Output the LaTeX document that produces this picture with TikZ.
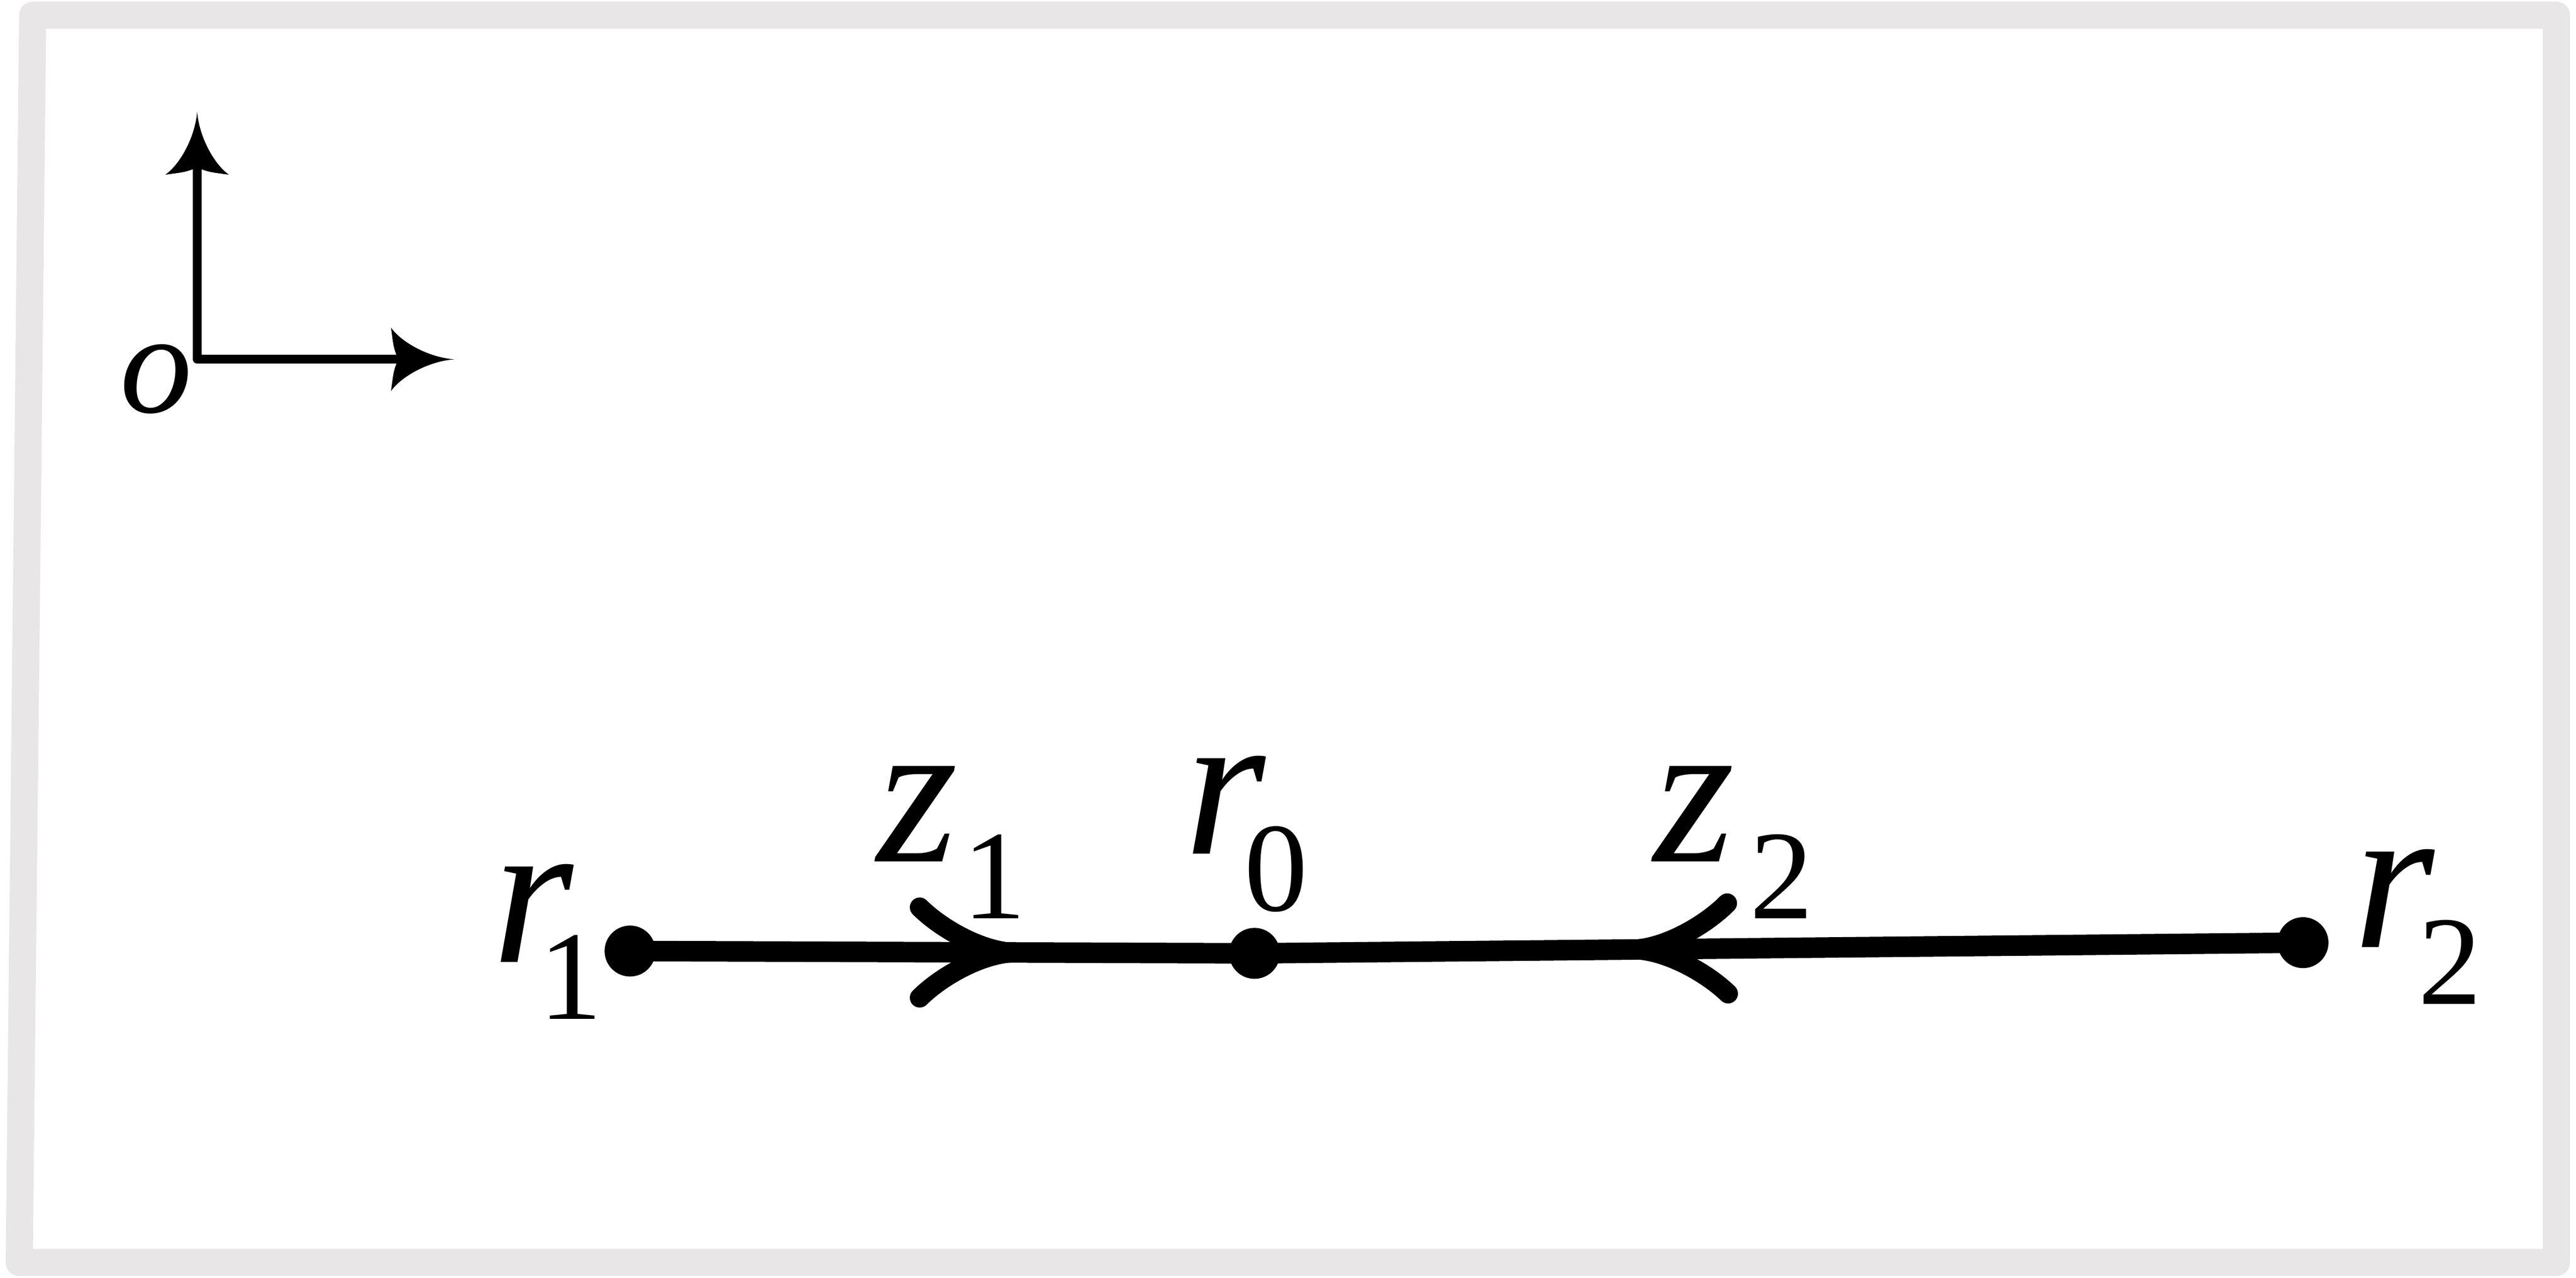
\documentclass[tikz,border=0pt]{standalone}
\usepackage{fontspec}
\setmainfont{Liberation Serif}
\usepackage{tikz}
\usetikzlibrary{arrows}
\definecolor{silverframe}{RGB}{232, 230, 231}
\newcommand{\bigsym}[3]{{\fontsize{36}{36}\selectfont\itshape #1}\kern#3\raisebox{-0.345cm}{\fontsize{22}{22}\selectfont #2}}

\begin{document}
\begin{tikzpicture}[
        dot/.style  = {circle, fill=black, inner sep=0pt, minimum size=0.31cm},
        sym/.style  = {anchor=base west, inner sep=0pt},
        wire/.style = {line width=0.125cm},
        axis/.style = {line width=0.053cm, line join=round, shorten <=0.3cm, shorten >=0.3cm},
        cusp/.pic   = {\fill (0.000, 0.000) .. controls (-0.150, 0.010) and (-0.320, 0.100) .. (-0.386, 0.193)
                             .. controls (-0.370, 0.070) .. (-0.343, 0.000)
                             .. controls (-0.370,-0.070) .. (-0.386,-0.193)
                             .. controls (-0.320,-0.100) and (-0.150,-0.010) .. cycle;},
        barb/.pic   = {\draw[line width=0.12cm, line cap=round, line join=round]
                             (-0.566, 0.275) .. controls (-0.440, 0.150) and (-0.200, 0.010) .. (0.000, 0.000)
                             .. controls (-0.200,-0.010) and (-0.440,-0.150) .. (-0.566,-0.275);}]
            \useasboundingbox                                              ( 0.000, 0.000) rectangle (15.680, 7.777);
            \draw[silverframe, line width=0.165cm, line join=round]       ( 0.199, 7.684) -- (15.561, 7.684) -- (15.561, 0.094) -- ( 0.117, 0.094) -- cycle;
            % axes
            \coordinate (o)    at ( 1.200, 5.590);
            \coordinate (ytip) at ( 1.200, 7.100);
            \coordinate (xtip) at ( 2.766, 5.590);
            \draw[axis] (ytip) -- (o) -- (xtip);
            \pic[rotate=90] at (ytip) {cusp};
            \pic            at (xtip) {cusp};
            \node[sym] (olab) at ( 0.726, 5.267) {\fontsize{25}{25}\selectfont\itshape o};
            % points on the line
            \node[dot] (r1) at ( 3.835, 1.989) {};
            \node[dot] (r0) at ( 7.636, 1.975) {};
            \node[dot] (r2) at (14.018, 2.040) {};
            \draw[wire] (r1.center) -- (r0.center) -- (r2.center);
            \coordinate (z1tip) at ( 6.164, 1.980);
            \coordinate (z2tip) at ( 9.950, 1.999);
            \pic                at (z1tip) {barb};
            \pic[rotate=180.6]  at (z2tip) {barb};
            % labels
            \node[sym] (r1lab) at ( 2.990, 1.920) {\bigsym{r}{1}{-0.21cm}};
            \node[sym] (z1lab) at ( 5.330, 2.533) {\bigsym{z}{1}{ 0.03cm}};
            \node[sym] (r0lab) at ( 7.205, 2.580) {\bigsym{r}{0}{-0.13cm}};
            \node[sym] (z2lab) at (10.060, 2.533) {\bigsym{z}{2}{ 0.09cm}};
            \node[sym] (r2lab) at (14.320, 2.012) {\bigsym{r}{2}{-0.10cm}};
        \end{tikzpicture}
\end{document}
